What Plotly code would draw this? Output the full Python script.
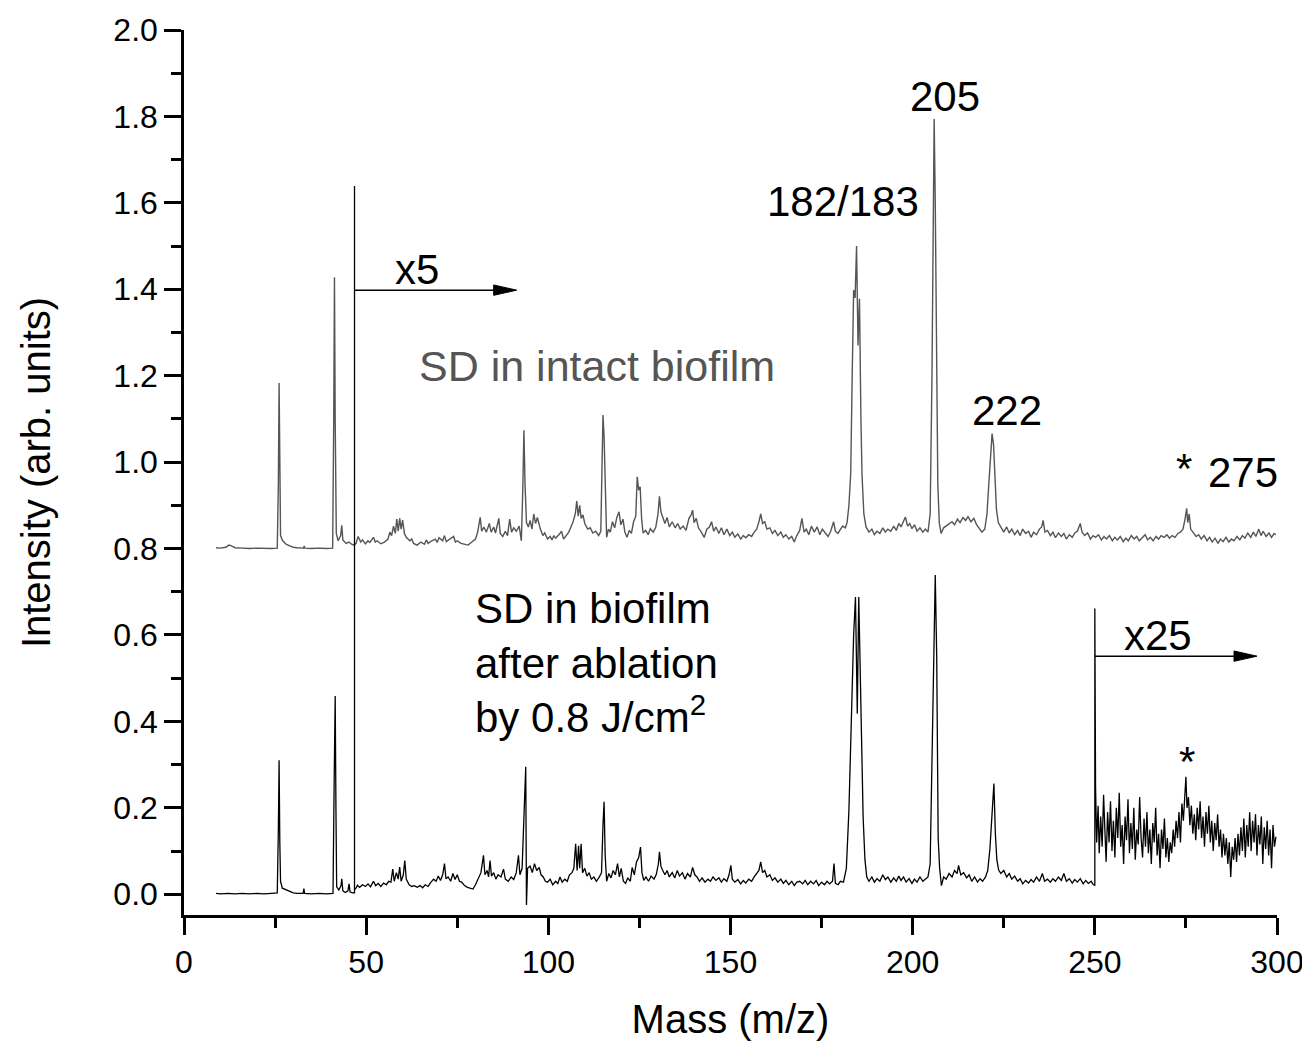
import plotly.graph_objects as go

# ---- data (mass in m/z, intensity in arb. units) ----
# upper spectrum: SD in intact biofilm (plotted with +0.8 offset already included)
top_0_50 = [
    (8.8, 0.802), (10, 0.801), (11.5, 0.803), (12.3, 0.808), (13, 0.806), (14, 0.802),
    (16, 0.801), (18, 0.800), (20, 0.801), (22, 0.800), (24, 0.800), (25.6, 0.801),
    (25.9, 0.95), (26.1, 1.183), (26.3, 0.95), (26.5, 0.83), (27, 0.819), (28, 0.810),
    (29, 0.806), (30, 0.803), (31, 0.802), (32.8, 0.801), (33, 0.806), (33.2, 0.801),
    (35, 0.800), (37, 0.801), (39, 0.800), (40.8, 0.801), (41.1, 1.10), (41.3, 1.428),
    (41.5, 1.10), (41.8, 0.835), (42.3, 0.818), (43, 0.830), (43.3, 0.854), (43.6, 0.820),
    (44.5, 0.812), (45.3, 0.815), (46, 0.810), (46.7, 0.808), (47.2, 0.812), (47.8, 0.828),
    (48.5, 0.815), (49, 0.820), (49.8, 0.811),
]
top_50_150 = [
    (50.5, 0.818), (51, 0.814), (52, 0.826), (52.5, 0.815), (53, 0.818), (54, 0.811),
    (55, 0.815), (56, 0.822), (56.5, 0.838), (57, 0.830), (57.5, 0.852), (58, 0.835),
    (58.4, 0.868), (58.8, 0.840), (59.2, 0.870), (59.6, 0.845), (60, 0.866), (60.5, 0.835),
    (61, 0.826), (62, 0.818), (62.5, 0.822), (63, 0.812), (64, 0.808), (65, 0.815),
    (66, 0.810), (66.5, 0.820), (67, 0.812), (68, 0.818), (69, 0.822), (69.5, 0.814),
    (70, 0.825), (71, 0.818), (71.5, 0.830), (72, 0.816), (73, 0.822), (74, 0.828),
    (74.5, 0.815), (75, 0.818), (76, 0.812), (77, 0.810), (78, 0.808), (79, 0.815),
    (80, 0.822), (80.6, 0.838), (81.3, 0.872), (81.7, 0.840), (82.3, 0.850), (83, 0.838),
    (83.8, 0.858), (84.3, 0.838), (85, 0.850), (85.5, 0.836), (86.1, 0.862), (86.4, 0.870),
    (86.8, 0.835), (87.5, 0.828), (88.2, 0.840), (88.8, 0.830), (89.4, 0.868), (89.9, 0.838),
    (90.5, 0.848), (91.2, 0.840), (92, 0.852), (92.6, 0.818), (93, 0.94), (93.3, 1.074),
    (93.6, 0.95), (94, 0.86), (94.5, 0.850), (95, 0.865), (95.5, 0.845), (96, 0.880),
    (96.5, 0.858), (97, 0.872), (97.8, 0.845), (98.5, 0.830), (99, 0.836), (99.8, 0.822),
    (100.5, 0.828), (101, 0.820), (101.5, 0.830), (102, 0.824), (103, 0.833), (103.6, 0.840),
    (104.2, 0.822), (105, 0.830), (105.6, 0.838), (106.2, 0.850), (106.8, 0.862), (107.4, 0.880),
    (107.8, 0.910), (108.2, 0.875), (108.6, 0.900), (109, 0.870), (109.5, 0.878), (110, 0.858),
    (110.8, 0.845), (111.5, 0.848), (112.2, 0.836), (113, 0.840), (113.8, 0.830), (114.4, 0.840),
    (114.8, 1.05), (115, 1.109), (115.3, 1.06), (115.6, 0.95), (116, 0.826), (116.5, 0.845),
    (117, 0.838), (117.6, 0.862), (118.2, 0.848), (118.8, 0.872), (119.4, 0.885), (119.9, 0.855),
    (120.5, 0.868), (121, 0.838), (121.6, 0.826), (122.2, 0.842), (122.8, 0.835), (123.4, 0.862),
    (124, 0.875), (124.4, 0.966), (124.8, 0.935), (125.2, 0.943), (125.6, 0.870), (126, 0.836),
    (126.7, 0.842), (127.4, 0.832), (128, 0.846), (128.8, 0.838), (129.5, 0.850), (130.1, 0.880),
    (130.5, 0.921), (130.9, 0.885), (131.4, 0.870), (132, 0.858), (132.6, 0.872), (133.2, 0.850),
    (134, 0.862), (134.8, 0.848), (135.5, 0.858), (136.2, 0.845), (137, 0.852), (137.8, 0.842),
    (138.6, 0.870), (139.2, 0.878), (139.6, 0.889), (140, 0.860), (140.6, 0.870), (141.2, 0.848),
    (142, 0.838), (142.8, 0.826), (143.5, 0.845), (144.2, 0.850), (144.8, 0.862), (145.4, 0.840),
    (146, 0.850), (146.8, 0.835), (147.5, 0.848), (148.2, 0.832), (149, 0.845), (149.8, 0.830),
]
top_150_250 = [
    (150.5, 0.838), (151.2, 0.826), (152, 0.834), (152.8, 0.822), (153.5, 0.830), (154.2, 0.825),
    (155, 0.832), (155.8, 0.828), (156.5, 0.838), (157.2, 0.845), (157.8, 0.862), (158.3, 0.880),
    (158.8, 0.858), (159.4, 0.862), (160, 0.845), (160.8, 0.848), (161.5, 0.835), (162.2, 0.842),
    (163, 0.830), (163.8, 0.838), (164.5, 0.826), (165.2, 0.832), (166, 0.822), (166.8, 0.828),
    (167.5, 0.815), (168.2, 0.830), (169, 0.842), (169.6, 0.870), (170.2, 0.838), (170.8, 0.845),
    (171.5, 0.832), (172.2, 0.852), (173, 0.838), (173.8, 0.850), (174.5, 0.832), (175.2, 0.845),
    (176, 0.836), (176.8, 0.828), (177.5, 0.840), (178.3, 0.862), (178.8, 0.840), (179.5, 0.835),
    (180.2, 0.845), (180.8, 0.852), (181.5, 0.848), (182, 0.860), (182.5, 0.900), (183, 0.975),
    (183.4, 1.20), (183.8, 1.398), (184.2, 1.38), (184.6, 1.500), (185, 1.270), (185.4, 1.378),
    (185.8, 1.10), (186.1, 0.970), (186.6, 0.880), (187.2, 0.850), (188, 0.838), (188.8, 0.845),
    (189.5, 0.832), (190.2, 0.840), (191, 0.835), (191.8, 0.848), (192.5, 0.838), (193.2, 0.845),
    (194, 0.840), (194.8, 0.852), (195.5, 0.842), (196.2, 0.858), (196.8, 0.850), (197.4, 0.862),
    (198, 0.873), (198.6, 0.852), (199.2, 0.858), (199.8, 0.846), (200.5, 0.855), (201.2, 0.840),
    (202, 0.848), (202.8, 0.838), (203.5, 0.845), (204.2, 0.838), (204.8, 0.880), (205.3, 1.20),
    (205.7, 1.60), (205.9, 1.794), (206.2, 1.60), (206.5, 1.25), (206.9, 0.95), (207.3, 0.860),
    (207.8, 0.835), (208.5, 0.848), (209.2, 0.852), (210, 0.858), (210.8, 0.862), (211.5, 0.855),
    (212.3, 0.868), (213, 0.860), (213.8, 0.872), (214.5, 0.865), (215.2, 0.874), (216, 0.862),
    (216.8, 0.870), (217.5, 0.856), (218.2, 0.848), (219, 0.838), (219.8, 0.845), (220.4, 0.880),
    (220.9, 0.950), (221.4, 1.030), (221.8, 1.066), (222.2, 1.040), (222.6, 0.960), (223, 0.890),
    (223.5, 0.860), (224.2, 0.848), (225, 0.838), (225.8, 0.850), (226.5, 0.836), (227.2, 0.845),
    (228, 0.832), (228.8, 0.842), (229.5, 0.830), (230.2, 0.845), (231, 0.835), (231.8, 0.840),
    (232.5, 0.826), (233.2, 0.838), (234, 0.832), (234.8, 0.845), (235.4, 0.850), (235.8, 0.865),
    (236.3, 0.838), (237, 0.842), (237.8, 0.830), (238.5, 0.838), (239.2, 0.825), (240, 0.836),
    (240.8, 0.828), (241.5, 0.835), (242.2, 0.822), (243, 0.832), (243.8, 0.826), (244.5, 0.836),
    (245.2, 0.840), (246, 0.858), (246.5, 0.838), (247.2, 0.830), (248, 0.836), (248.8, 0.822),
    (249.5, 0.830),
]
top_250_300 = [
    (250.2, 0.826), (251, 0.832), (251.8, 0.820), (252.5, 0.828), (253.2, 0.822), (254, 0.830),
    (254.8, 0.818), (255.5, 0.826), (256.2, 0.820), (257, 0.828), (257.8, 0.816), (258.5, 0.824),
    (259.2, 0.818), (260, 0.830), (260.8, 0.822), (261.5, 0.828), (262.2, 0.818), (263, 0.826),
    (263.8, 0.832), (264.5, 0.820), (265.2, 0.826), (266, 0.818), (266.8, 0.828), (267.5, 0.822),
    (268.2, 0.830), (269, 0.826), (269.8, 0.832), (270.5, 0.824), (271.2, 0.830), (272, 0.826),
    (272.8, 0.835), (273.5, 0.838), (274.2, 0.845), (274.8, 0.870), (275.2, 0.893), (275.5, 0.860),
    (275.9, 0.880), (276.3, 0.845), (277, 0.836), (277.8, 0.828), (278.5, 0.832), (279.2, 0.822),
    (280, 0.830), (280.8, 0.818), (281.5, 0.826), (282.2, 0.815), (283, 0.824), (283.8, 0.812),
    (284.5, 0.822), (285.2, 0.816), (286, 0.826), (286.8, 0.815), (287.5, 0.822), (288.2, 0.818),
    (289, 0.828), (289.8, 0.820), (290.5, 0.830), (291.2, 0.824), (292, 0.836), (292.8, 0.826),
    (293.5, 0.838), (294.2, 0.828), (295, 0.845), (295.6, 0.830), (296.2, 0.840), (297, 0.828),
    (297.8, 0.836), (298.5, 0.826), (299.2, 0.835), (299.7, 0.832),
]

# lower spectrum: SD in biofilm after ablation (x5 from 46.8, x25 from 250)
bot_0_50 = [
    (8.8, 0.002), (10, 0.001), (12, 0.002), (14, 0.001), (16, 0.002), (18, 0.001),
    (20, 0.002), (22, 0.001), (24, 0.002), (25.6, 0.003), (25.9, 0.15), (26.1, 0.310),
    (26.3, 0.12), (26.5, 0.03), (27, 0.014), (28, 0.010), (29, 0.006), (30, 0.003),
    (31, 0.002), (32.7, 0.002), (32.9, 0.013), (33.1, 0.002), (35, 0.001), (37, 0.002),
    (39, 0.001), (40.9, 0.002), (41.2, 0.25), (41.5, 0.459), (41.7, 0.20), (41.9, 0.017),
    (42.5, 0.010), (43.1, 0.020), (43.3, 0.036), (43.6, 0.008), (44.3, 0.004), (45, 0.008),
    (45.3, 0.024), (45.6, 0.005), (46.3, 0.003), (46.8, 0.003), (46.8, 1.639), (46.8, 0.010),
    (47.3, 0.015), (47.6, 0.021), (48.2, 0.016), (49, 0.022), (49.8, 0.018),
]
bot_50_150 = [
    (50.5, 0.024), (51.2, 0.017), (52, 0.030), (52.6, 0.020), (53.3, 0.025), (54, 0.018),
    (54.8, 0.026), (55.5, 0.022), (56.2, 0.030), (56.8, 0.028), (57.3, 0.058), (57.7, 0.030),
    (58.3, 0.050), (58.8, 0.035), (59.2, 0.063), (59.6, 0.030), (60.2, 0.045), (60.6, 0.078),
    (61, 0.035), (61.8, 0.022), (62.5, 0.018), (63.2, 0.020), (64, 0.016), (64.8, 0.020),
    (65.5, 0.015), (66.2, 0.022), (67, 0.018), (67.8, 0.028), (68.5, 0.035), (69.2, 0.030),
    (69.8, 0.042), (70.4, 0.032), (71, 0.045), (71.5, 0.071), (71.9, 0.036), (72.5, 0.040),
    (73.2, 0.030), (73.8, 0.048), (74.4, 0.034), (75, 0.045), (75.6, 0.030), (76.2, 0.028),
    (77, 0.020), (77.8, 0.016), (78.5, 0.014), (79.3, 0.012), (80, 0.022), (80.8, 0.035),
    (81.5, 0.050), (82.2, 0.090), (82.6, 0.045), (83.2, 0.055), (83.6, 0.040), (84, 0.078),
    (84.4, 0.042), (85, 0.050), (85.6, 0.035), (86.2, 0.045), (87, 0.040), (87.7, 0.058),
    (88.2, 0.035), (89, 0.030), (89.8, 0.040), (90.5, 0.034), (91.2, 0.050), (91.8, 0.090),
    (92.2, 0.045), (92.8, 0.060), (93.3, 0.20), (93.8, 0.295), (94, -0.025), (94.3, 0.060),
    (95, 0.065), (95.6, 0.050), (96.2, 0.071), (96.8, 0.055), (97.5, 0.062), (98, 0.045),
    (98.6, 0.040), (99.2, 0.030), (99.8, 0.028), (100.5, 0.035), (101.2, 0.022), (102, 0.030),
    (102.6, 0.025), (103.2, 0.040), (103.8, 0.028), (104.5, 0.035), (105.2, 0.030), (105.8, 0.045),
    (106.5, 0.050), (107, 0.060), (107.5, 0.117), (107.9, 0.055), (108.3, 0.112), (108.6, 0.060),
    (109, 0.117), (109.4, 0.050), (110, 0.060), (110.6, 0.042), (111.2, 0.050), (111.8, 0.035),
    (112.5, 0.040), (113.2, 0.030), (114, 0.040), (114.6, 0.050), (115, 0.160), (115.3, 0.214),
    (115.6, 0.090), (116, 0.030), (116.6, 0.048), (117.2, 0.038), (117.8, 0.055), (118.4, 0.045),
    (119, 0.071), (119.5, 0.040), (120, 0.060), (120.6, 0.030), (121.2, 0.025), (121.8, 0.038),
    (122.5, 0.030), (123, 0.062), (123.6, 0.045), (124.2, 0.075), (124.8, 0.085), (125.3, 0.109),
    (125.7, 0.050), (126.2, 0.032), (126.8, 0.040), (127.5, 0.030), (128.2, 0.042), (129, 0.035),
    (129.6, 0.045), (130.2, 0.070), (130.5, 0.098), (130.9, 0.065), (131.4, 0.055), (132, 0.045),
    (132.6, 0.055), (133.2, 0.040), (134, 0.050), (134.7, 0.038), (135.4, 0.055), (136, 0.042),
    (136.8, 0.050), (137.5, 0.035), (138.2, 0.048), (139, 0.040), (139.6, 0.062), (140.2, 0.045),
    (140.8, 0.040), (141.5, 0.030), (142.2, 0.038), (143, 0.028), (143.8, 0.035), (144.5, 0.030),
    (145.2, 0.040), (146, 0.032), (146.8, 0.038), (147.5, 0.028), (148.2, 0.036), (149, 0.030),
    (149.6, 0.045),
]
bot_150_250 = [
    (150.1, 0.067), (150.5, 0.035), (151.2, 0.028), (152, 0.034), (152.8, 0.024), (153.5, 0.032),
    (154.2, 0.026), (155, 0.035), (155.8, 0.030), (156.5, 0.040), (157.2, 0.048), (157.8, 0.055),
    (158.3, 0.075), (158.8, 0.050), (159.4, 0.055), (160, 0.040), (160.8, 0.045), (161.5, 0.032),
    (162.2, 0.038), (163, 0.028), (163.8, 0.035), (164.5, 0.025), (165.2, 0.032), (166, 0.022),
    (166.8, 0.030), (167.5, 0.020), (168.2, 0.028), (169, 0.030), (169.8, 0.024), (170.5, 0.032),
    (171.2, 0.022), (172, 0.030), (172.8, 0.024), (173.5, 0.032), (174.2, 0.020), (175, 0.028),
    (175.8, 0.022), (176.5, 0.030), (177.2, 0.024), (178, 0.030), (178.4, 0.071), (178.8, 0.025),
    (179.5, 0.022), (180.2, 0.030), (181, 0.028), (181.8, 0.060), (182.5, 0.194), (183.2, 0.45),
    (183.8, 0.60), (184.3, 0.688), (184.8, 0.418), (185.2, 0.688), (185.7, 0.45), (186.1, 0.240),
    (186.4, 0.179), (186.9, 0.080), (187.4, 0.040), (188, 0.030), (188.8, 0.040), (189.5, 0.028),
    (190.2, 0.036), (191, 0.030), (191.8, 0.045), (192.5, 0.034), (193.2, 0.040), (194, 0.028),
    (194.8, 0.038), (195.5, 0.030), (196.2, 0.042), (196.8, 0.032), (197.5, 0.040), (198.2, 0.028),
    (199, 0.036), (199.8, 0.025), (200.5, 0.035), (201.2, 0.028), (202, 0.040), (202.8, 0.030),
    (203.5, 0.035), (204.2, 0.040), (204.8, 0.070), (205.3, 0.30), (205.8, 0.60), (206.2, 0.739),
    (206.6, 0.55), (207, 0.130), (207.4, 0.060), (207.9, 0.020), (208.5, 0.040), (209.2, 0.035),
    (210, 0.048), (210.8, 0.040), (211.5, 0.055), (212.2, 0.048), (212.6, 0.067), (213.2, 0.045),
    (214, 0.050), (214.8, 0.038), (215.5, 0.045), (216.2, 0.030), (217, 0.040), (217.8, 0.028),
    (218.5, 0.036), (219.2, 0.030), (220, 0.040), (220.6, 0.055), (221.2, 0.105), (221.8, 0.200),
    (222.3, 0.256), (222.7, 0.140), (223.1, 0.080), (223.6, 0.056), (224.2, 0.048), (225, 0.055),
    (225.8, 0.040), (226.5, 0.048), (227.2, 0.035), (228, 0.042), (228.8, 0.030), (229.5, 0.036),
    (230.2, 0.024), (231, 0.032), (231.8, 0.026), (232.5, 0.034), (233.2, 0.028), (234, 0.040),
    (234.8, 0.030), (235.6, 0.048), (236.2, 0.030), (237, 0.035), (237.8, 0.028), (238.5, 0.036),
    (239.2, 0.030), (240, 0.040), (240.8, 0.032), (241.5, 0.048), (242.2, 0.030), (243, 0.036),
    (243.8, 0.026), (244.5, 0.034), (245.2, 0.028), (246, 0.036), (246.8, 0.024), (247.5, 0.032),
    (248.2, 0.025), (249, 0.030), (249.6, 0.022), (250.0, 0.021), (250.0, 0.661),
]
bot_250_300 = [
    (250.2, 0.249), (250.5, 0.120), (250.9, 0.205), (251.2, 0.095), (251.6, 0.180), (252.0, 0.110),
    (252.4, 0.230), (252.8, 0.140), (253.1, 0.075), (253.5, 0.190), (253.9, 0.120), (254.3, 0.215),
    (254.7, 0.100), (255.1, 0.170), (255.5, 0.085), (255.9, 0.200), (256.3, 0.130), (256.7, 0.235),
    (257.1, 0.110), (257.5, 0.160), (257.9, 0.070), (258.3, 0.180), (258.7, 0.125), (259.1, 0.220),
    (259.5, 0.095), (259.9, 0.165), (260.3, 0.105), (260.7, 0.200), (261.1, 0.080), (261.5, 0.150),
    (261.9, 0.115), (262.3, 0.225), (262.7, 0.130), (263.1, 0.085), (263.5, 0.175), (263.9, 0.110),
    (264.3, 0.190), (264.7, 0.095), (265.1, 0.150), (265.5, 0.070), (265.9, 0.165), (266.3, 0.120),
    (266.7, 0.200), (267.1, 0.090), (267.5, 0.140), (267.9, 0.060), (268.3, 0.150), (268.7, 0.105),
    (269.1, 0.175), (269.5, 0.085), (269.9, 0.130), (270.3, 0.075), (270.7, 0.120), (271.1, 0.095),
    (271.5, 0.150), (271.9, 0.110), (272.3, 0.170), (272.7, 0.130), (273.1, 0.190), (273.5, 0.120),
    (273.9, 0.210), (274.3, 0.170), (274.7, 0.240), (275.0, 0.272), (275.3, 0.200), (275.7, 0.225),
    (276.1, 0.160), (276.5, 0.205), (276.9, 0.140), (277.3, 0.185), (277.7, 0.125), (278.1, 0.200),
    (278.5, 0.150), (278.9, 0.215), (279.3, 0.130), (279.7, 0.180), (280.1, 0.110), (280.5, 0.190),
    (280.9, 0.140), (281.3, 0.205), (281.7, 0.120), (282.1, 0.170), (282.5, 0.100), (282.9, 0.165),
    (283.3, 0.125), (283.7, 0.185), (284.1, 0.110), (284.5, 0.150), (284.9, 0.085), (285.3, 0.140),
    (285.7, 0.090), (286.1, 0.130), (286.5, 0.070), (286.9, 0.120), (287.3, 0.040), (287.7, 0.110),
    (288.1, 0.080), (288.5, 0.130), (288.9, 0.075), (289.3, 0.140), (289.7, 0.090), (290.1, 0.155),
    (290.5, 0.100), (290.9, 0.175), (291.3, 0.085), (291.7, 0.160), (292.1, 0.110), (292.5, 0.190),
    (292.9, 0.100), (293.3, 0.170), (293.7, 0.120), (294.1, 0.185), (294.5, 0.090), (294.9, 0.160),
    (295.3, 0.115), (295.7, 0.180), (296.1, 0.070), (296.5, 0.155), (296.9, 0.105), (297.3, 0.170),
    (297.7, 0.090), (298.1, 0.150), (298.5, 0.060), (298.9, 0.160), (299.3, 0.110), (299.7, 0.133),
]

# peak labels: (text, mass, intensity)
peak_labels = [
    ("205", 209.0, 1.845),
    ("182/183", 181.0, 1.602),
    ("222", 226.0, 1.120),
    ("*", 274.5, 0.986),
    ("275", 290.7, 0.977),
    ("*", 275.3, 0.308),
]
# scale-change markers: (label, start mass, end mass, arrow level)
scale_marks = [
    ("x5", 46.8, 91.3, 1.398),
    ("x25", 250.0, 294.5, 0.551),
]

FONT = "Liberation Sans, Arial, sans-serif"
top = top_0_50 + top_50_150 + top_150_250 + top_250_300
bot = bot_0_50 + bot_50_150 + bot_150_250 + bot_250_300

fig = go.Figure()
fig.add_trace(go.Scatter(
    x=[p[0] for p in top], y=[p[1] for p in top], mode="lines",
    line=dict(color="#555555", width=1.4), showlegend=False,
))
fig.add_trace(go.Scatter(
    x=[p[0] for p in bot], y=[p[1] for p in bot], mode="lines",
    line=dict(color="#000000", width=1.3), showlegend=False,
))

for text, mx, my in peak_labels:
    fig.add_annotation(x=mx, y=my, text=text, showarrow=False,
                       font=dict(family=FONT, size=42, color="black"))

# arrows for the magnification factors
for text, x0, x1, ylev in scale_marks:
    fig.add_shape(type="line", x0=x0, x1=x1 - 5, y0=ylev, y1=ylev,
                  line=dict(color="black", width=1.5))
    fig.add_shape(type="path", path=f"M {x1 - 6.3} {ylev + 0.012} L {x1} {ylev} L {x1 - 6.3} {ylev - 0.012} Z",
                  fillcolor="black", line=dict(color="black", width=1))
    fig.add_annotation(x=(x0 + x1) / 2 - 5, y=ylev + 0.047, text=text, showarrow=False,
                       font=dict(family=FONT, size=42, color="black"))

fig.add_annotation(x=64.0, y=1.222, text="SD in intact biofilm", showarrow=False,
                   xanchor="left", font=dict(family=FONT, size=43, color="#555555"))
fig.add_annotation(x=79.4, y=0.535, text="SD in biofilm<br>after ablation<br>by 0.8 J/cm<sup>2</sup>",
                   showarrow=False, xanchor="left", align="left",
                   font=dict(family=FONT, size=42, color="black"))

axis_common = dict(
    showline=True, linecolor="black", linewidth=2.5, mirror=False,
    ticks="outside", tickcolor="black", tickwidth=2.5, ticklen=17,
    showgrid=False, zeroline=False, automargin=False, ticklabeloverflow="allow",
    tickfont=dict(family=FONT, size=32, color="black"),
)
fig.update_xaxes(range=[0, 300], dtick=50, tick0=0,
                 minor=dict(ticks="outside", dtick=25, ticklen=10, tickwidth=2.5, tickcolor="black"),
                 title=dict(text="Mass (m/z)", standoff=29, font=dict(family=FONT, size=40, color="black")),
                 **axis_common)
fig.update_yaxes(range=[-0.048, 2.0], dtick=0.2, tick0=0, tickformat=".1f",
                 minor=dict(ticks="outside", dtick=0.1, ticklen=10, tickwidth=2.5, tickcolor="black"),
                 title=dict(text="Intensity (arb. units)", standoff=51, font=dict(family=FONT, size=40, color="black")),
                 **axis_common)

# the page body adds an 8 px margin, so the figure is a bit smaller and shifted
fig.update_layout(
    width=1300, height=1033,
    margin=dict(l=176, r=31, t=22, b=126),
    plot_bgcolor="white", paper_bgcolor="white",
    font=dict(family=FONT, color="black"),
)

fig.write_html("out.html")
